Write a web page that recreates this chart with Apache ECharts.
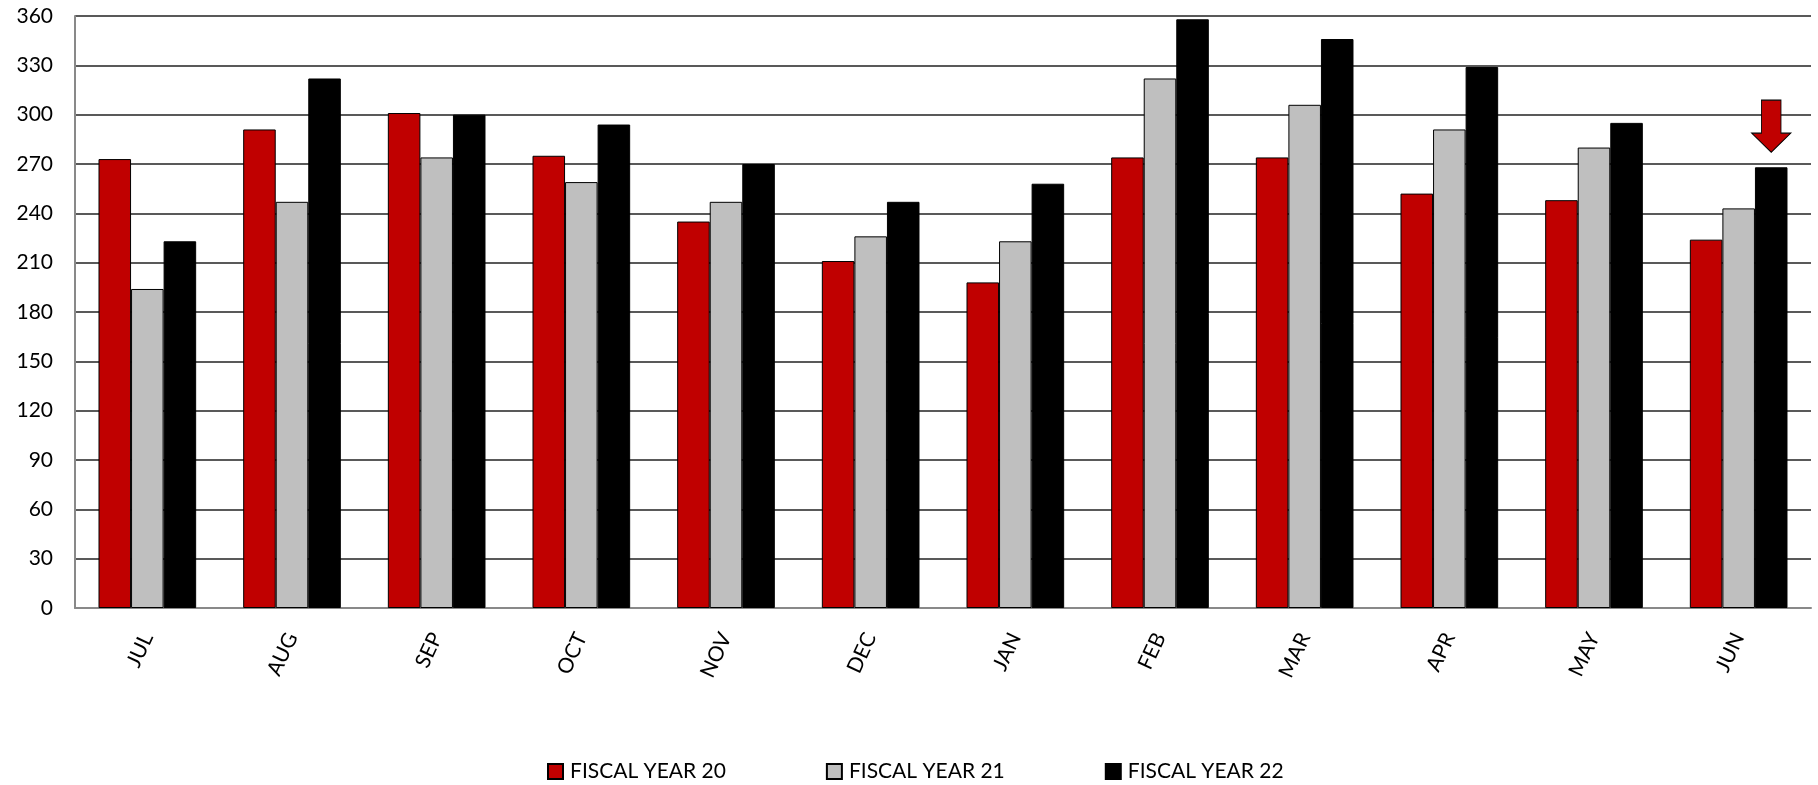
<!DOCTYPE html>
<html>
<head>
<meta charset="utf-8">
<title>Monthly totals by fiscal year</title>
<script src="https://cdn.jsdelivr.net/npm/echarts@6/dist/echarts.min.js"></script>
<style>
  html, body { margin: 0; padding: 0; background: #ffffff; }
  #chart { width: 1818px; height: 785px; }
</style>
</head>
<body>
<div id="chart"></div>
<script>
// Months of the fiscal year (July to June)
const months = ['JUL', 'AUG', 'SEP', 'OCT', 'NOV', 'DEC', 'JAN', 'FEB', 'MAR', 'APR', 'MAY', 'JUN'];

// Monthly values per fiscal year
const fy20 = [273, 291, 301, 275, 235, 211, 198, 274, 274, 252, 248, 224];
const fy21 = [194, 247, 274, 259, 247, 226, 223, 322, 306, 291, 280, 243];
const fy22 = [223, 322, 300, 294, 270, 247, 258, 358, 346, 329, 295, 268];

const seriesNames = ['FISCAL YEAR 20', 'FISCAL YEAR 21', 'FISCAL YEAR 22'];

// Value axis range
const yMin = 0;
const yMax = 360;
const yStep = 30;

// Down arrow flagging the latest month
const arrowMonth = 'JUN';
const arrowValue = 293;

const FONT = 'Lato, "Open Sans", sans-serif';
const arrowPath = 'path://M10,0 L30,0 L30,33 L40,33 L20,52 L0,33 L10,33 Z';

const chart = echarts.init(document.getElementById('chart'), null, { renderer: 'canvas' });

function barSeries(name, data, color, border) {
  return {
    name: name,
    type: 'bar',
    data: data,
    barGap: '0%',
    barCategoryGap: '32.5%',
    itemStyle: { color: color, borderColor: border, borderWidth: 1 },
    emphasis: { disabled: true }
  };
}

const s22 = barSeries(seriesNames[2], fy22, '#000000', '#000000');
s22.markPoint = {
  symbol: arrowPath,
  symbolSize: [39, 52],
  silent: true,
  label: { show: false },
  itemStyle: { color: '#C00000', borderColor: '#000000', borderWidth: 1 },
  data: [{ coord: [arrowMonth, arrowValue] }]
};

chart.setOption({
  animation: false,
  backgroundColor: '#ffffff',
  textStyle: { fontFamily: FONT },
  grid: { left: 75, right: 7, top: 16, bottom: 177, containLabel: false },
  legend: {
    data: seriesNames,
    left: 542,
    top: 756,
    itemWidth: 15,
    itemHeight: 15,
    itemGap: 100,
    icon: 'rect',
    textStyle: { fontFamily: FONT, fontSize: 21, color: '#000000', padding: [0, 0, 0, 2] },
    selectedMode: false
  },
  xAxis: {
    type: 'category',
    data: months,
    axisLine: { show: true, lineStyle: { color: '#898989', width: 2 } },
    axisTick: { show: false },
    axisLabel: {
      rotate: 65,
      margin: 26,
      fontFamily: FONT,
      fontSize: 21,
      color: '#000000'
    },
    splitLine: { show: false }
  },
  yAxis: {
    type: 'value',
    min: yMin,
    max: yMax,
    interval: yStep,
    axisLine: { show: true, lineStyle: { color: '#898989', width: 2 } },
    axisTick: { show: false },
    axisLabel: { margin: 22, fontFamily: FONT, fontSize: 21, color: '#000000' },
    splitLine: { show: true, lineStyle: { color: '#222222', width: 1.5 } }
  },
  series: [
    barSeries(seriesNames[0], fy20, '#C00000', '#000000'),
    barSeries(seriesNames[1], fy21, '#BFBFBF', '#000000'),
    s22
  ]
});
</script>
</body>
</html>
